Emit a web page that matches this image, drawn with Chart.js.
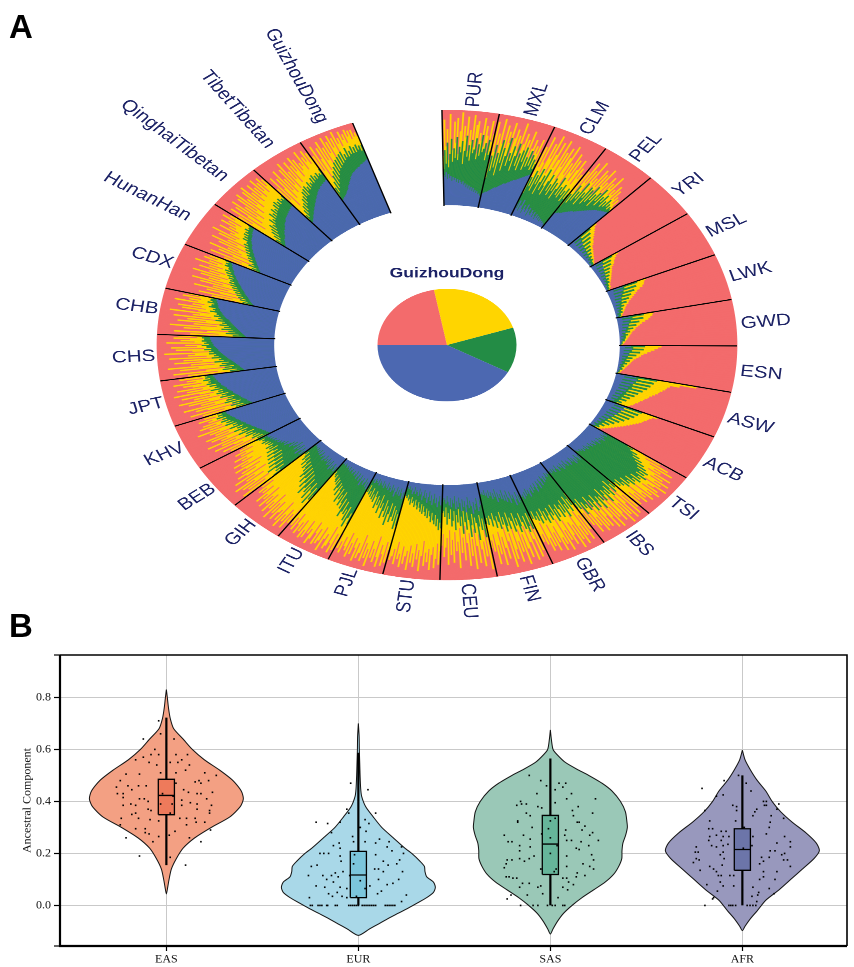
<!DOCTYPE html>
<html><head><meta charset="utf-8">
<script src="https://cdn.jsdelivr.net/npm/chart.js@4"></script>
<style>
html,body{margin:0;padding:0;background:#fff;width:854px;height:967px;overflow:hidden}
canvas{position:absolute;left:0}
#ring,#pie{top:0;transform-origin:0 0;transform:scaleY(.81)}
#vio{top:640px}
.tag{position:absolute;left:9px;font:bold 33px "Liberation Sans",Arial,sans-serif;color:#000;line-height:1}
</style></head><body>
<canvas id="ring" width="854" height="765"></canvas>
<canvas id="pie" width="854" height="765"></canvas>
<canvas id="vio" width="854" height="327"></canvas>
<div class="tag" style="top:10px">A</div>
<div class="tag" style="top:609px">B</div>
<script>
/* ---------- panel A: ring values, percent of bar height, inner edge outward ---------- */
const popNames=["PUR","MXL","CLM","PEL","YRI","MSL","LWK","GWD","ESN","ASW","ACB","TSI","IBS","GBR","FIN","CEU","STU","PJL","ITU","GIH","BEB","KHV","JPT","CHS","CHB","CDX","HunanHan","QinghaiTibetan","TibetTibetan","GuizhouDong"];
const PUR_b=[32,30,35,28,33,29,31,26,30,27,29,25,28,24,27,25,23,26,22,24,20,23,19,22,18,21,17,20,16,18,15,17,14,15,13,12];
const PUR_g=[38,58,44,66,40,54,70,46,60,50,72,48,62,56,68,44,58,74,52,64,48,70,56,60,72,50,66,54,76,58,62,68,50,72,56,60];
const PUR_y=[52,90,62,80,48,96,70,58,88,66,92,54,78,98,60,84,72,94,58,80,68,96,62,86,90,56,78,70,94,64,86,76,58,92,70,78];
const MXL_b=[15,16,17,18,18,19,20,21,22,23,24,24,25,26,27,28,29,30,30,31,32,33,34,35,36,36,37,38,39,40,41,42,43,44,45,46];
const MXL_g=[32,56,40,68,44,60,36,74,50,66,42,58,78,48,62,54,70,44,60,74,50,64,46,68,56,72,48,62,52,70,54,66,50,62,52,58];
const MXL_y=[48,92,60,80,54,96,70,62,90,50,84,72,94,58,78,88,56,82,66,96,60,74,86,54,80,68,90,58,72,82,62,76,68,84,60,70];
const CLM_b=[14,9,18,7,13,20,10,6,15,11,8,17,12,5,14,9,7,13,10,6,12,8,5,11,7,10,6,9,5,8,6,7,5,6,4,5];
const CLM_g=[26,44,34,52,30,48,38,56,28,42,50,34,58,40,30,46,54,36,44,32,52,38,48,30,42,56,36,46,34,50,38,44,32,48,36,42];
const CLM_y=[44,78,56,90,62,50,84,68,94,52,74,88,60,70,92,54,80,64,86,50,76,90,58,72,48,84,62,78,54,68,80,52,72,60,66,50];
const PEL_b=[19,20,21,22,22,23,24,25,26,27,28,29,30,30,31,32,33,34,35,36,37,38,39,40,41,42,43,44,44,45,46,46,47,47,48,48];
const PEL_g=[28,44,34,56,38,50,42,62,36,52,46,60,40,58,44,64,48,56,42,60,50,66,46,58,52,62,48,56,50,60,52,56,50,54,52,50];
const PEL_y=[54,72,48,84,60,76,52,88,64,70,56,82,62,78,54,86,66,72,60,80,58,74,68,84,62,70,64,76,60,72,62,66,58,64,56,54];
const YRI_b=[14,6,12,5,11,5,9,4,8,4,7,3,6,3,5,3,4,2,3,2];
const YRI_g=[26,14,23,12,20,10,17,9,14,8,12,7,10,6,8,6,7,5,5,4];
const YRI_y=[33,30,28,26,24,22,20,19,17,15,14,13,12,11,10,9,8,7,6,5];
const MSL_b=[12,5,11,4,10,4,8,4,7,3,6,3,5,3,4,2,3,2,2,2];
const MSL_g=[22,12,19,10,17,9,14,8,12,7,10,6,8,6,7,5,5,4,4,3];
const MSL_y=[28,25,23,21,20,18,16,15,14,13,12,11,10,9,8,7,6,6,5,4];
const LWK_b=[15,6,14,5,12,5,10,4,9,4,7,3,6,3,5,3,4,2,3,2];
const LWK_g=[28,16,26,14,23,12,19,10,16,9,13,8,10,7,8,6,7,5,5,4];
const LWK_y=[36,34,33,31,28,25,23,21,19,17,15,14,12,11,10,9,8,7,6,6];
const GWD_b=[12,5,12,5,10,4,9,4,7,3,6,3,4,2,4,2,3,2,2,1];
const GWD_g=[24,14,23,12,19,10,16,9,13,8,10,6,8,6,6,5,5,3,3,2];
const GWD_y=[32,31,29,27,24,21,19,17,15,14,12,11,10,9,8,7,6,5,4,3];
const ESN_b=[10,5,11,4,9,4,8,3,6,3,5,3,4,2,3,2,3,2,2,1];
const ESN_g=[22,12,21,11,18,9,15,8,12,7,10,6,8,5,6,4,5,3,3,2];
const ESN_y=[36,33,30,27,24,21,19,17,15,13,12,11,10,9,8,7,6,5,4,3];
const ASW_b=[18,8,19,7,17,7,15,6,14,6,13,5,11,5,10,4,9,4,7,4];
const ASW_g=[36,20,34,19,32,17,30,17,27,15,24,14,22,13,19,12,17,11,14,10];
const ASW_y=[70,56,48,46,45,43,41,40,38,36,34,33,31,30,28,27,25,24,22,20];
const ACB_b=[20,9,19,8,17,7,15,6,13,6,11,5,9,4,7,4,6,3,5,3];
const ACB_g=[34,18,32,17,30,16,27,14,24,13,21,11,18,10,15,9,12,8,9,6];
const ACB_y=[48,44,42,41,39,38,36,34,32,30,28,26,24,22,20,18,16,14,12,10];
const TSI_b=[18,15,20,17,14,19,16,21,15,18,13,17,20,14,16,12,18,15,13,17,11,15,14,12,16,10,14,12,15,11,13,10,12,11,9,10];
const TSI_g=[40,46,44,52,48,56,50,60,54,64,58,68,60,72,64,70,62,74,66,70,60,72,64,68,58,70,62,66,56,68,60,64,54,62,56,58];
const TSI_y=[56,74,60,84,66,90,72,80,68,92,76,86,74,94,80,88,72,96,84,78,90,74,94,82,88,70,92,80,86,68,90,76,84,72,88,78];
const IBS_b=[17,13,19,15,11,18,14,20,12,16,10,15,18,13,11,17,14,9,16,12,18,10,15,13,11,17,14,9,13,16,11,14,10,15,12,13];
const IBS_g=[50,60,54,64,48,58,66,52,62,56,70,54,60,66,50,64,58,72,56,62,68,52,60,70,56,64,50,66,58,62,54,68,48,60,52,58];
const IBS_y=[62,88,70,94,58,78,96,66,90,74,98,64,84,92,60,86,72,96,68,82,94,62,78,90,70,88,56,92,74,84,66,90,58,80,64,76];
const GBR_b=[10,14,12,16,11,15,18,13,20,15,12,22,17,14,24,18,15,21,26,16,20,23,17,25,19,22,28,20,24,18,26,21,28,23,25,22];
const GBR_g=[38,52,44,58,40,54,48,62,42,56,46,60,50,44,58,48,62,42,54,50,58,44,52,60,46,56,42,50,58,44,54,48,52,42,50,46];
const GBR_y=[54,82,64,92,58,86,74,94,60,88,70,96,66,80,90,62,84,72,94,58,86,78,92,64,82,70,90,60,84,74,88,56,80,68,76,62];
const FIN_b=[28,22,30,18,26,32,20,24,16,28,22,14,26,18,24,12,22,16,20,14,24,10,18,14,20,12,16,10,18,12,15,9,14,11,13,10];
const FIN_g=[46,60,42,56,62,44,58,50,40,54,60,44,52,38,58,46,42,54,36,50,56,40,48,34,52,44,38,50,42,34,48,40,36,46,38,44];
const FIN_y=[58,84,52,90,70,60,92,72,54,88,78,62,94,56,80,68,90,52,76,86,58,94,66,50,84,72,60,90,54,78,68,88,56,74,62,70];
const CEU_b=[24,18,26,30,16,22,28,20,32,24,18,26,14,22,30,18,24,16,28,20,14,24,18,26,12,20,16,24,14,22,18,12,20,16,14,18];
const CEU_g=[44,58,38,50,34,46,60,42,36,52,32,44,56,38,30,48,40,28,52,34,44,26,40,32,48,28,38,44,26,36,30,42,24,34,28,30];
const CEU_y=[56,92,50,78,62,88,70,54,84,66,48,90,58,76,52,86,62,44,80,56,72,46,88,60,70,50,82,58,74,48,84,56,66,76,52,64];
const STU_b=[16,22,12,18,24,14,20,10,16,22,12,18,8,14,20,10,15,7,13,18,9,12,6,14,10,8,12,5,10,13,7,9,5,8,6,7];
const STU_g=[46,40,48,36,44,32,42,38,30,40,34,28,36,26,34,30,24,32,22,30,26,20,28,24,18,26,20,22,16,24,18,20,14,18,16,14];
const STU_y=[70,84,62,78,88,66,74,90,68,82,72,86,60,76,92,70,80,64,88,74,84,66,92,72,78,86,68,90,76,82,64,88,72,80,84,74];
const PJL_b=[18,12,20,14,9,17,11,16,8,14,19,10,13,7,15,11,9,14,6,12,10,8,13,6,11,9,7,12,5,10,8,6,11,7,9,6];
const PJL_g=[48,36,52,32,44,28,40,46,26,38,50,30,42,24,36,44,28,34,20,40,26,32,22,36,24,18,30,22,28,16,26,20,24,14,22,18];
const PJL_y=[74,88,66,92,80,70,94,84,62,90,76,86,68,96,78,88,72,92,64,84,90,74,94,80,70,88,76,92,66,86,82,72,90,78,86,70];
const ITU_b=[16,20,12,18,9,14,17,10,13,19,8,12,15,7,11,14,6,10,12,7,9,11,6,8,10,5,9,7,5,8,6,4,7,5,6,4];
const ITU_g=[60,48,54,64,42,58,46,52,38,50,56,36,48,42,30,46,34,40,28,44,32,26,38,24,30,34,22,28,20,26,24,18,22,20,16,18];
const ITU_y=[78,90,72,94,84,66,88,92,76,82,96,70,86,90,74,92,80,68,88,94,78,84,70,90,82,92,72,86,76,90,80,68,88,74,84,78];
const GIH_b=[16,12,18,14,10,17,13,19,9,15,11,16,8,13,10,14,7,12,15,9,11,13,7,10,12,6,11,8,10,6,9,7,8,6,7,5];
const GIH_g=[48,54,40,60,46,36,56,42,50,34,46,54,30,42,48,28,38,44,26,36,40,24,34,30,22,32,26,20,30,24,18,26,22,16,20,18];
const GIH_y=[66,84,74,92,70,86,78,94,64,88,76,80,90,68,84,72,92,62,82,74,88,66,80,70,86,60,78,72,84,62,74,68,76,58,70,64];
const BEB_b=[22,18,24,15,20,26,14,21,17,24,13,19,22,16,25,18,21,24,27,22,26,24,28,26,30,27,29,31,28,32,30,33,31,34,33,36];
const BEB_g=[54,46,50,40,48,56,38,46,52,36,44,50,34,42,48,32,40,46,34,38,44,32,40,36,42,34,38,35,40,36,42,38,40,37,42,44];
const BEB_y=[72,88,62,80,56,84,70,90,58,76,66,86,52,72,80,60,74,54,68,78,50,70,62,76,56,66,60,72,52,64,58,68,50,62,54,58];
const KHV_b=[30,30,31,32,32,33,34,34,35,36,37,37,38,39,40,40,41,42,43,43,44,45,46,46,47,48,49,49,50,51,52,52,53,54,54,55];
const KHV_g=[34,42,36,46,38,44,40,50,42,48,40,54,46,50,44,56,48,52,46,58,50,54,50,60,52,58,54,62,56,60,56,64,58,62,58,62];
const KHV_y=[50,68,44,74,54,62,80,48,72,58,84,52,70,64,78,56,82,60,72,54,76,66,86,58,74,62,82,66,78,60,72,68,80,64,74,70];
const JPT_b=[30,30,31,32,33,33,34,35,36,37,37,38,39,40,41,42,42,43,44,45,46,46,47,48,49,50,50,51,52,52,53,53,54,54,55,55];
const JPT_g=[34,44,37,48,40,46,38,52,42,50,44,48,42,54,48,52,46,56,50,54,50,60,52,56,54,60,54,62,58,60,58,64,58,62,60,62];
const JPT_y=[46,74,54,84,44,68,78,50,88,60,72,48,82,64,90,54,76,62,86,58,70,92,60,80,66,88,62,74,82,66,90,70,78,64,84,72];
const CHS_b=[28,28,29,30,31,31,32,33,34,35,36,37,38,39,40,41,42,43,44,45,46,47,48,48,49,50,51,52,52,53,53,54,54,55,55,55];
const CHS_g=[32,40,34,46,38,44,36,48,42,46,40,52,44,48,46,54,48,52,50,56,52,56,54,60,54,58,58,62,56,60,58,62,60,60,62,60];
const CHS_y=[44,76,50,88,60,42,82,66,92,52,72,48,86,62,78,54,90,58,74,68,94,56,70,84,60,88,66,76,62,92,68,80,72,86,66,82];
const CHB_b=[25,25,26,27,28,29,30,31,32,33,34,35,36,37,38,39,40,41,43,44,45,46,47,48,49,50,50,51,52,52,53,53,54,54,55,55];
const CHB_g=[28,36,31,42,34,40,36,46,38,44,40,48,42,46,44,52,46,50,48,54,50,52,52,58,54,56,54,60,58,58,56,62,58,60,60,58];
const CHB_y=[42,72,48,86,58,40,78,64,90,50,70,46,84,60,76,52,88,56,72,66,92,58,68,82,62,86,66,74,64,90,70,78,68,84,70,80];
const CDX_b=[24,24,25,26,27,28,29,30,31,32,33,34,35,36,37,38,39,40,41,42,43,44,45,46,47,48,49,50,50,51,52,53,54,54,55,56];
const CDX_g=[27,33,29,36,31,38,34,40,36,42,38,44,40,46,42,48,44,50,46,50,48,52,48,54,50,56,52,58,54,56,56,60,58,60,58,62];
const CDX_y=[36,60,42,72,34,54,66,40,78,48,62,44,74,54,82,46,68,58,76,52,84,60,70,56,80,64,72,60,86,66,74,62,80,68,76,70];
const HAN_b=[30,30,31,32,33,34,35,36,37,38,39,40,41,42,43,44,45,46,47,48,49,49,50,51,52,53,53,54,54,55,56,56,57,57,58,58];
const HAN_g=[32,38,34,42,37,40,39,44,41,46,43,48,46,50,47,52,49,54,51,56,53,55,55,60,56,60,57,62,58,62,60,64,61,62,62,64];
const HAN_y=[42,64,48,78,40,58,72,44,82,52,66,56,76,50,84,60,70,54,80,64,88,62,72,68,84,66,76,70,86,72,80,68,88,76,82,78];
const QIN_b=[26,26,27,28,29,30,31,31,32,33,34,35,36,37,37,38,39,40,41,42,42,43,44,45,45,46,46,47,47,48,48,49,49,50,50,50];
const QIN_g=[30,36,32,40,34,44,37,46,40,50,43,48,46,54,48,52,50,58,51,56,52,60,54,58,55,62,56,64,58,62,58,64,60,62,60,64];
const QIN_y=[52,76,62,86,50,70,84,56,90,64,78,58,88,68,92,62,82,72,90,66,94,74,84,70,92,76,86,72,94,78,88,74,92,80,88,84];
const TIB_b=[26,26,27,28,29,30,31,32,33,34,35,36,37,38,39,40,41,42,43,44,45,46,47,48,49,50,50,51,52,52,53,53,54,54,55,55];
const TIB_g=[29,35,32,40,35,44,38,46,42,50,44,52,48,56,50,58,50,60,54,58,54,62,56,60,58,64,58,66,60,64,60,66,62,64,62,68];
const TIB_y=[48,72,56,84,46,68,80,54,88,62,76,58,86,66,92,60,80,70,90,64,84,76,92,68,88,74,82,78,94,72,86,80,92,76,88,82];
const GUI_b=[30,30,31,32,32,33,34,35,36,37,38,40,41,42,44,45,46,48,49,50,51,52,52,53,54,54,55,55,56,57,57,58,58,59,60,60];
const GUI_g=[34,44,38,50,42,56,46,60,50,64,54,68,58,70,60,72,62,74,64,76,66,72,68,78,68,74,70,78,70,76,70,78,72,76,70,76];
const GUI_y=[58,82,64,92,54,76,88,62,94,72,86,66,96,78,90,70,96,82,92,76,98,84,90,80,96,86,92,82,96,88,94,84,94,86,90,86];
const blueRows=[PUR_b,MXL_b,CLM_b,PEL_b,YRI_b,MSL_b,LWK_b,GWD_b,ESN_b,ASW_b,ACB_b,TSI_b,IBS_b,GBR_b,FIN_b,CEU_b,STU_b,PJL_b,ITU_b,GIH_b,BEB_b,KHV_b,JPT_b,CHS_b,CHB_b,CDX_b,HAN_b,QIN_b,TIB_b,GUI_b];
const greenRows=[PUR_g,MXL_g,CLM_g,PEL_g,YRI_g,MSL_g,LWK_g,GWD_g,ESN_g,ASW_g,ACB_g,TSI_g,IBS_g,GBR_g,FIN_g,CEU_g,STU_g,PJL_g,ITU_g,GIH_g,BEB_g,KHV_g,JPT_g,CHS_g,CHB_g,CDX_g,HAN_g,QIN_g,TIB_g,GUI_g];
const yellowRows=[PUR_y,MXL_y,CLM_y,PEL_y,YRI_y,MSL_y,LWK_y,GWD_y,ESN_y,ASW_y,ACB_y,TSI_y,IBS_y,GBR_y,FIN_y,CEU_y,STU_y,PJL_y,ITU_y,GIH_y,BEB_y,KHV_y,JPT_y,CHS_y,CHB_y,CDX_y,HAN_y,QIN_y,TIB_y,GUI_y];

/* ---------- centre pie ---------- */
const pieLabels=["Red","Yellow","Green","Blue"];
const pieValues=[22,23,13,42];

/* ---------- panel B ---------- */
const groups=["EAS","EUR","SAS","AFR"];
const yTicks=[0,0.2,0.4,0.6,0.8];
const easProfileY=[.83,.80,.76,.72,.68,.64,.60,.56,.52,.48,.44,.41,.38,.34,.30,.26,.22,.18,.14,.10,.07,.044];
const easProfileW=[0,.005,.011,.02,.038,.087,.135,.198,.278,.347,.39,.401,.385,.33,.234,.148,.087,.052,.026,.014,.007,0];
const eurProfileY=[.70,.65,.60,.55,.50,.45,.42,.38,.34,.30,.26,.22,.20,.17,.15,.13,.11,.09,.07,.05,.03,.01,-.01,-.03,-.05,-.07,-.09,-.115];
const eurProfileW=[0,.004,.005,.007,.009,.012,.017,.038,.078,.122,.182,.243,.278,.321,.344,.347,.356,.391,.401,.391,.356,.309,.26,.208,.156,.108,.059,0];
const sasProfileY=[.675,.64,.60,.58,.55,.52,.50,.47,.44,.40,.36,.32,.30,.27,.24,.21,.18,.15,.12,.09,.06,.03,0,-.03,-.06,-.09,-.11];
const sasProfileW=[0,.005,.014,.035,.078,.148,.2,.269,.321,.365,.391,.399,.401,.392,.378,.373,.372,.356,.33,.286,.226,.165,.113,.069,.038,.014,0];
const afrProfileY=[.597,.56,.52,.48,.44,.40,.36,.32,.28,.24,.21,.18,.14,.10,.06,.02,-.02,-.05,-.08,-.097];
const afrProfileW=[0,.014,.043,.078,.122,.155,.2,.26,.33,.385,.401,.373,.313,.252,.191,.122,.078,.043,.014,0];
const boxLow=[.349,.03,.119,.135];
const boxHigh=[.485,.208,.346,.295];
const boxMedian=[.423,.117,.236,.215];
const whiskerLow=[.155,0,0,0];
const whiskerHigh=[.722,.587,.565,.50];
const easX=[-.04,-.03,-.12,.04,-.06,0,.05,.11,-.12,-.16,-.08,.08,.06,-.04,-.09,.12,-.05,.02,.10,-.21,-.14,.2,.26,-.03,.05,-.24,.22,.17,-.26,-.2,-.145,-.105,-.18,.05,.15,.18,.24,-.255,-.225,.09,.115,.16,.18,-.225,-.14,-.115,-.095,-.02,.035,.08,.125,.16,.21,-.225,-.185,-.16,-.03,.03,.08,.235,-.095,-.08,.16,-.18,-.16,.225,.225,-.235,-.145,.02,.07,.105,.15,-.085,-.04,-.24,.105,.155,.2,-.16,-.11,.045,.23,-.11,-.09,.015,-.21,-.04,.12,-.07,.18,.02,-.14,.10];
const easY=[.71,.66,.64,.64,.60,.62,.58,.58,.57,.56,.58,.56,.55,.58,.55,.54,.54,.55,.52,.505,.505,.51,.50,.51,.51,.48,.48,.48,.455,.46,.46,.46,.445,.47,.475,.47,.435,.43,.43,.445,.435,.43,.43,.415,.41,.41,.40,.43,.42,.405,.395,.39,.41,.385,.39,.385,.39,.39,.385,.385,.37,.365,.37,.35,.355,.365,.355,.335,.335,.355,.335,.335,.335,.33,.325,.31,.31,.32,.32,.295,.295,.285,.29,.28,.275,.27,.26,.265,.26,.245,.245,.185,.19,.155];
const eurX=[-.04,.05,.09,-.06,-.05,-.22,-.16,-.095,.035,.055,.01,.04,-.14,-.03,-.025,.11,.16,.09,.035,-.1,-.13,-.095,0,.15,.225,-.2,-.18,-.155,.09,.175,.235,-.095,-.02,-.09,.215,.13,-.215,-.245,.105,.155,.2,-.025,-.08,.085,.13,.23,-.26,-.185,-.12,-.14,-.105,-.045,-.165,-.13,.01,.105,.21,.15,.18,-.22,-.175,-.095,-.06,.06,.035,.12,-.11,-.155,-.135,-.085,-.01,.10,.25,-.255,.225,-.06,-.25,-.24,-.21,-.2,-.19,-.165,-.16,-.12,-.11,-.05,-.04,-.03,-.02,-.01,0,.02,.03,.04,.05,.06,.07,.08,.09,.14,.15,.16,.17,.18,.19];
const eurY=[.47,.445,.355,.37,.355,.32,.315,.32,.33,.315,.30,.285,.28,.265,.245,.255,.245,.24,.245,.24,.23,.22,.22,.225,.225,.2,.2,.2,.195,.21,.2,.19,.195,.17,.175,.17,.155,.15,.14,.155,.16,.16,.13,.14,.13,.13,.115,.115,.125,.115,.11,.115,.1,.09,.095,.1,.1,.08,.085,.075,.07,.07,.065,.075,.065,.055,.05,.045,.035,.035,.035,.045,.04,.03,.015,.03,0,0,0,0,0,0,0,0,0,0,0,0,0,0,0,0,0,0,0,0,0,0,0,0,0,0,0,0,0];
const sasX=[-.11,-.05,-.02,.045,.08,.065,.025,-.07,.11,.235,.085,.025,-.155,-.175,-.15,-.125,-.065,-.045,.145,.115,-.125,-.105,.22,.12,-.17,-.17,.025,0,.14,.15,.18,-.095,-.01,.08,.165,.22,-.045,-.24,-.14,.205,-.105,0,.075,.25,-.22,-.2,.085,.11,.16,.2,-.16,-.105,.035,.135,.15,-.16,.215,0,.085,-.085,-.2,-.16,-.135,-.11,-.225,-.23,.225,.17,-.24,-.05,.03,.085,.205,.225,.02,.14,-.23,-.215,-.195,-.175,.065,.085,.135,.18,-.145,-.11,.095,.12,-.065,-.05,.065,.09,-.16,-.12,-.04,-.205,-.225,.04,-.155,-.09,-.065,-.015,.01,.025,.065,.075];
const sasY=[.5,.48,.46,.47,.47,.455,.445,.43,.43,.41,.41,.395,.4,.385,.39,.39,.38,.375,.38,.365,.355,.345,.355,.345,.325,.32,.335,.325,.32,.32,.305,.3,.295,.29,.29,.28,.275,.27,.27,.27,.255,.26,.27,.25,.245,.245,.25,.25,.245,.23,.23,.225,.23,.22,.215,.21,.195,.2,.19,.19,.175,.18,.17,.18,.175,.16,.175,.16,.145,.14,.14,.15,.15,.14,.13,.125,.11,.11,.105,.105,.105,.105,.11,.115,.085,.085,.09,.08,.07,.075,.07,.06,.07,.04,.045,.04,.025,.03,0,0,0,0,0,0,0,0];
const afrX=[-.095,-.21,-.02,.02,.045,-.135,-.1,.11,.125,.19,.115,.125,-.05,-.03,.18,-.195,.075,.065,-.03,.055,.15,.215,-.17,-.035,.145,-.175,-.155,-.11,-.085,.01,.14,.125,-.135,-.1,.22,-.17,-.175,-.11,-.07,.055,.25,.18,-.16,-.135,-.1,-.075,.05,.25,-.24,-.245,-.23,-.1,.005,.145,.22,.17,.205,-.115,-.095,.1,.14,-.24,-.225,.215,.235,-.255,.11,-.105,-.17,-.15,.25,-.22,.09,-.135,.18,.11,-.125,-.11,-.065,-.045,.11,.09,.17,-.115,-.1,-.045,-.185,.055,.14,0,-.13,.085,.08,.165,-.15,.05,-.155,.075,-.195,-.07,-.06,-.05,-.035,.025,.04,.055,.07];
const afrY=[.48,.45,.5,.47,.44,.42,.425,.40,.40,.39,.385,.385,.385,.38,.37,.365,.37,.36,.365,.345,.345,.335,.325,.325,.32,.295,.295,.285,.285,.3,.3,.275,.27,.265,.265,.265,.25,.25,.265,.265,.245,.24,.23,.225,.23,.235,.23,.225,.225,.205,.205,.205,.22,.21,.2,.21,.195,.195,.18,.185,.185,.18,.175,.175,.175,.165,.17,.155,.15,.14,.15,.135,.16,.13,.13,.13,.115,.115,.115,.115,.11,.1,.1,.09,.075,.075,.08,.07,.065,.06,.055,.05,.04,.045,.03,.035,.025,.015,0,0,0,0,0,0,0,0,0];

const fillCols=["#F3A083","#A9D8E8","#9AC8B7","#9898BD"];
const boxCols=["#EE7A5B","#7CC6DC","#66B59A","#6C75A9"];
const ptX=[easX,eurX,sasX,afrX], ptY=[easY,eurY,sasY,afrY];
const profY=[easProfileY,eurProfileY,sasProfileY,afrProfileY], profW=[easProfileW,eurProfileW,sasProfileW,afrProfileW];

/* ---------- ring chart ---------- */
const RED="#F36B6C",YEL="#FFD500",GRN="#238C45",BLU="#4C68B1";
const startDeg=-1, spanDeg=11.4, hole=172/290;
const radMin=-hole/(1-hole);
const gapDeg=360-spanDeg*popNames.length;
const flat=rows=>rows.flat().map(v=>v/100);
const withGap=a=>a.concat([radMin]);
const labelsA=popNames.flatMap((n,i)=>blueRows[i].map(()=>n)).concat([""]);
const angles=blueRows.flatMap(r=>r.map(()=>spanDeg/r.length)).concat([gapDeg]);
const one=labelsA.slice(0,-1).map(()=>1), zero=labelsA.slice(0,-1).map(()=>0);
const ds=(data,c,w)=>({data:withGap(data),backgroundColor:c,borderColor:c,borderWidth:w,angle:angles});
const ringDecor={id:'ringDecor',afterDatasetsDraw(ch){
  const s=ch.scales.r,c=ch.ctx,cx=s.xCenter,cy=s.yCenter;
  const R=s.getDistanceFromCenterForValue(1),r0=s.getDistanceFromCenterForValue(0);
  c.save();c.strokeStyle="#000";c.lineWidth=1.4;
  for(let i=0;i<=popNames.length;i++){
    const a=(startDeg+i*spanDeg-90)*Math.PI/180;
    c.beginPath();c.moveTo(cx+r0*Math.cos(a),cy+r0*Math.sin(a));c.lineTo(cx+R*Math.cos(a),cy+R*Math.sin(a));c.stroke();
  }
  c.fillStyle="#1D2366";c.font='20.6px "Liberation Sans",Arial,sans-serif';c.textBaseline="middle";
  popNames.forEach((n,i)=>{
    const deg=startDeg+(i+.5)*spanDeg,a=(deg+.4-90)*Math.PI/180;
    const rr=R+(deg<=180?5:(n.length>4?12:2));
    c.save();c.translate(cx+rr*Math.cos(a),cy+rr*Math.sin(a));
    if(deg<=180){c.rotate((deg-90)*Math.PI/180);c.textAlign="left";}
    else{c.rotate((deg-270)*Math.PI/180);c.textAlign="right";}
    c.fillText(n,0,0);c.restore();
  });
  c.restore();
}};
new Chart(document.getElementById('ring'),{type:'polarArea',plugins:[ringDecor],
 data:{labels:labelsA,datasets:[
   ds(zero,"#fff",1.6),
   ds(flat(blueRows),BLU,.25),ds(flat(greenRows),GRN,.25),ds(flat(yellowRows),YEL,.25),ds(one,RED,.7)]},
 options:{responsive:false,devicePixelRatio:2,animation:false,
  layout:{padding:{left:157,right:117,top:136,bottom:49}},
  plugins:{legend:{display:false},tooltip:{enabled:false}},events:[],
  scales:{r:{min:radMin,max:1,startAngle:startDeg,grid:{display:false},angleLines:{display:false},ticks:{display:false},pointLabels:{display:false},border:{display:false}}}}});

/* ---------- centre pie ---------- */
const pieTitle={id:'pieTitle',afterDraw(ch){
  const c=ch.ctx,a=ch.chartArea;
  c.save();c.fillStyle="#1D2366";c.font='bold 17.5px "Liberation Sans",Arial,sans-serif';c.textAlign="center";c.textBaseline="middle";
  c.fillText("GuizhouDong",(a.left+a.right)/2,a.top-19);c.restore();
}};
new Chart(document.getElementById('pie'),{type:'pie',plugins:[pieTitle],
 data:{labels:pieLabels,datasets:[{data:pieValues,backgroundColor:[RED,YEL,GRN,BLU],borderWidth:0}]},
 options:{responsive:false,devicePixelRatio:2,animation:false,rotation:270,events:[],
  layout:{padding:{left:377.5,right:337.5,top:356.5,bottom:269.5}},
  plugins:{legend:{display:false},tooltip:{enabled:false}}}});

/* ---------- violin chart ---------- */
const vd=[];
groups.forEach((g,i)=>{
  const right=profY[i].map((y,k)=>({x:i+profW[i][k],y}));
  const left=profY[i].map((y,k)=>({x:i-profW[i][k],y})).reverse();
  vd.push({label:g+" violin",data:right.concat(left.slice(1)),showLine:true,fill:'shape',backgroundColor:fillCols[i],borderColor:"#111",borderWidth:1,pointRadius:0,tension:.25,order:10});
  vd.push({label:g+" whisker",data:[{x:i,y:whiskerLow[i]},{x:i,y:whiskerHigh[i]}],showLine:true,borderColor:"#000",borderWidth:2.2,pointRadius:0,order:5});
  const w=.042;
  vd.push({label:g+" box",data:[{x:i-w,y:boxLow[i]},{x:i+w,y:boxLow[i]},{x:i+w,y:boxHigh[i]},{x:i-w,y:boxHigh[i]},{x:i-w,y:boxLow[i]}],showLine:true,fill:'shape',backgroundColor:boxCols[i],borderColor:"#000",borderWidth:1.3,pointRadius:0,order:4});
  vd.push({label:g+" median",data:[{x:i-w,y:boxMedian[i]},{x:i+w,y:boxMedian[i]}],showLine:true,borderColor:"#000",borderWidth:1.3,pointRadius:0,order:3});
  vd.push({label:g+" samples",data:ptX[i].map((d,k)=>({x:i+d,y:ptY[i][k]})),pointStyle:'rect',pointRadius:1.15,pointBackgroundColor:"#000",pointBorderWidth:0,showLine:false,order:1});
});
const serif='"Liberation Serif","Times New Roman",serif';
const frame={id:'frame',afterDatasetsDraw(ch){
  const a=ch.chartArea,c=ch.ctx;c.save();c.strokeStyle="#000";c.lineWidth=1.6;
  c.beginPath();c.moveTo(a.left,a.top);c.lineTo(a.right,a.top);c.lineTo(a.right,a.bottom);c.stroke();
  c.lineWidth=2.2;c.beginPath();c.moveTo(a.left,a.top);c.lineTo(a.left,a.bottom);c.lineTo(a.right,a.bottom);c.stroke();c.restore();
}};
const yMin=-.156,yMax=.963;
new Chart(document.getElementById('vio'),{type:'scatter',plugins:[frame],data:{datasets:vd},
 options:{responsive:false,devicePixelRatio:2,animation:false,events:[],
  layout:{padding:{top:15,right:7,left:0,bottom:0}},
  plugins:{legend:{display:false},tooltip:{enabled:false}},
  scales:{
   x:{type:'linear',min:-.554,max:3.545,
      afterBuildTicks:s=>{s.ticks=groups.map((_,i)=>({value:i}));},
      afterFit:s=>{s.height=21;},
      grid:{color:"#c9c9c9",lineWidth:1,tickColor:"#000",tickWidth:1.2,tickLength:5},border:{display:false},
      ticks:{color:"#111",font:{family:serif,size:12},padding:1,maxRotation:0,autoSkip:false,callback:v=>groups[v]}},
   y:{type:'linear',min:yMin,max:yMax,
      afterBuildTicks:s=>{s.ticks=[yMin].concat(yTicks,[yMax]).map(v=>({value:v}));},
      afterFit:s=>{s.width=60;},
      grid:{color:c=>(c.tick&&yTicks.includes(c.tick.value))?"#c9c9c9":"rgba(0,0,0,0)",lineWidth:1,tickColor:"#000",tickWidth:1.2,tickLength:6},border:{display:false},
      title:{display:true,text:"Ancestral Component",color:"#111",font:{family:serif,size:12},padding:{top:20,bottom:0}},
      ticks:{color:"#111",font:{family:serif,size:12},padding:3,autoSkip:false,callback:v=>yTicks.includes(v)?v.toFixed(1):""}}
  }}});
</script>
</body></html>
